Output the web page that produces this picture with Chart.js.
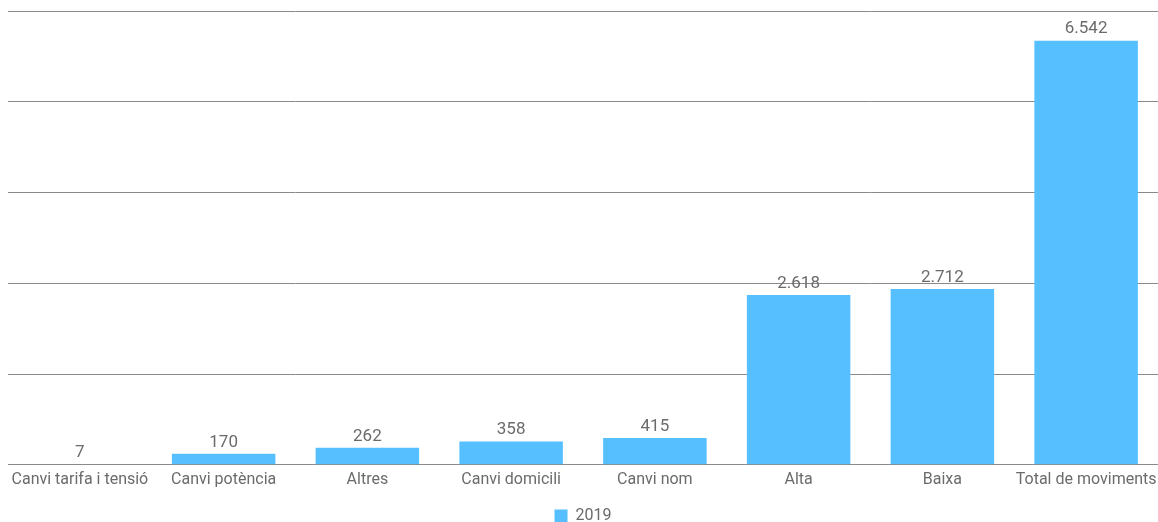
<!DOCTYPE html>
<html lang="ca">
<head>
    <meta charset="UTF-8">
    <title>Moviments 2019</title>
    <style>
        body {
            margin: 0;
            background-color: #fff;
        }

        .container {
            position: relative;
            width: 1158px;
            height: 522px;
        }
    </style>
</head>
<body>
    <div class="container">
        <canvas id="movChart"></canvas>
    </div>

    <script src="https://cdn.jsdelivr.net/npm/chart.js"></script>
    <script>
        // Data
        const categories = ['Canvi tarifa i tensió', 'Canvi potència', 'Altres', 'Canvi domicili',
            'Canvi nom', 'Alta', 'Baixa', 'Total de moviments'];
        const values2019 = [7, 170, 262, 358, 415, 2618, 2712, 6542];
        const seriesName = '2019';

        const textColor = '#6b6b6b';
        const fontFamily = 'Roboto, "Liberation Sans", Arial, sans-serif';

        // Catalan number format: 6.542
        function fmt(v) {
            return v.toString().replace(/\B(?=(\d{3})+(?!\d))/g, '.');
        }

        // Draw the value above each bar
        const valueLabels = {
            id: 'valueLabels',
            afterDatasetsDraw(chart) {
                const c = chart.ctx;
                c.save();
                c.font = '17px ' + fontFamily;
                c.fillStyle = textColor;
                c.textAlign = 'center';
                c.textBaseline = 'bottom';
                chart.getDatasetMeta(0).data.forEach((bar, i) => {
                    c.fillText(fmt(chart.data.datasets[0].data[i]), bar.x, bar.y - 3);
                });
                c.restore();
            }
        };

        const ctx = document.getElementById('movChart').getContext('2d');
        new Chart(ctx, {
            type: 'bar',
            data: {
                labels: categories,
                datasets: [{
                    label: seriesName,
                    data: values2019,
                    backgroundColor: '#55bfff',
                    barPercentage: 0.8,
                    categoryPercentage: 0.9
                }]
            },
            options: {
                responsive: true,
                maintainAspectRatio: false,
                animation: false,
                layout: {
                    // legend adds 10px below itself, push that off the canvas
                    padding: { left: 8, top: 11, right: 0, bottom: -12 }
                },
                plugins: {
                    legend: {
                        position: 'bottom',
                        labels: {
                            boxWidth: 13,
                            boxHeight: 13,
                            color: textColor,
                            padding: 20,
                            font: { size: 16, family: fontFamily }
                        }
                    },
                    tooltip: { enabled: false }
                },
                scales: {
                    x: {
                        grid: { display: false },
                        border: { color: '#8a8a8a' },
                        ticks: {
                            color: textColor,
                            padding: -2,
                            maxRotation: 0,
                            autoSkip: false,
                            font: { size: 16, family: fontFamily }
                        }
                    },
                    y: {
                        min: 0,
                        max: 7000,
                        ticks: { display: false, stepSize: 1400 },
                        grid: { color: '#8a8a8a', drawTicks: false },
                        border: { display: false }
                    }
                }
            },
            plugins: [valueLabels]
        });
    </script>
</body>
</html>
